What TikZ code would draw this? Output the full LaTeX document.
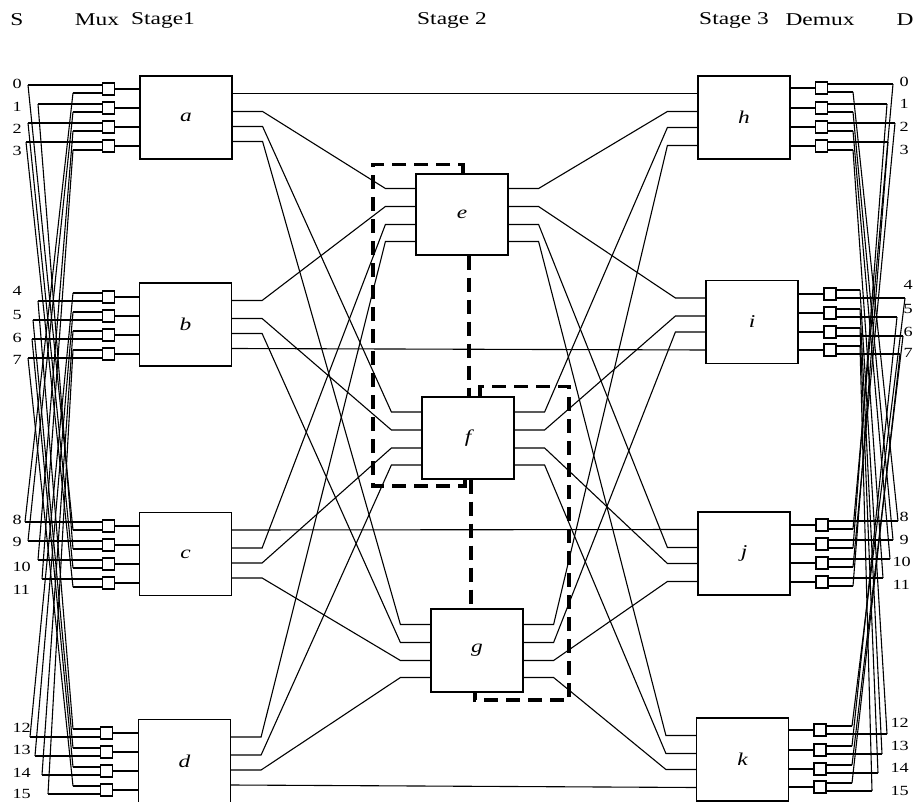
\documentclass[tikz,border=0pt]{standalone}
\usepackage{fontspec}
\setmainfont{Liberation Serif}
\usepackage{graphicx}
\usetikzlibrary{calc}
\newcommand{\hwide}[1]{\scalebox{1.3}[1]{#1}}

\tikzset{
  blk/.style={draw, line width=1.2pt, minimum width=92pt, minimum height=83pt,
              inner sep=0pt, font=\fontsize{18}{18}\selectfont\itshape},
  mux/.style={draw, line width=1.1pt, minimum width=12pt, minimum height=12pt, inner sep=0pt},
  lnk/.style={line width=1.1pt},
  num/.style={inner sep=0pt, anchor=west, font=\fontsize{14}{14}\selectfont},
  hdr/.style={inner sep=0pt, font=\fontsize{18}{18}\selectfont},
  hl/.style={line width=3.5pt, dash pattern=on 14pt off 8pt}
}

\begin{document}
\begin{tikzpicture}[x=1pt, y=-1pt, lnk]
  \useasboundingbox (0,0) rectangle (913,802);

  % headers
  \node[hdr] (hdS) at (17,20) {\hwide{S}};
  \node[hdr] (hdMux) at (97,20) {\hwide{Mux}};
  \node[hdr] (hdOne) at (163,20) {\hwide{Stage1}};
  \node[hdr] (hdTwo) at (452,20) {\hwide{Stage 2}};
  \node[hdr] (hdThree) at (734,20) {\hwide{Stage 3}};
  \node[hdr] (hdDemux) at (820,20) {\hwide{Demux}};
  \node[hdr] (hdD) at (905,20) {\hwide{D}};

  % stage 1, 2, 3 switches
  \node[blk] (a) at (186,117.5) {\hwide{a}};
  \node[blk] (b) at (185.5,324.5) {\hwide{b}};
  \node[blk] (c) at (185.5,554) {\hwide{c}};
  \node[blk] (d) at (184.5,761) {\hwide{d}};
  \node[blk, minimum height=81pt] (e) at (462,214.5) {\hwide{e}};
  \node[blk, minimum height=82pt] (f) at (468,438) {\hwide{f}};
  \node[blk] (g) at (477,650.5) {\hwide{g}};
  \node[blk] (h) at (744,117.5) {\hwide{h}};
  \node[blk] (i) at (752,322) {\hwide{i}};
  \node[blk] (j) at (744,553.5) {\hwide{j}};
  \node[blk] (k) at (742.5,759.5) {\hwide{k}};

  % muxes, sources
  \foreach \n/\bx/\mx/\my/\sx/\ly in {0/a/108.5/89/28/84, 1/a/108.5/108/38/107,
      2/a/108.5/127/28/129, 3/a/108.5/146/26/151, 4/b/108.5/297/38/291,
      5/b/108.5/316/33/315, 6/b/108.5/335/32/338, 7/b/108.5/354/28/360,
      8/c/108.5/526/25/520, 9/c/108.5/545/28/542, 10/c/108.5/564/38/567,
      11/c/108.5/583/42/590, 12/d/106.5/733/30/728, 13/d/106.5/752/35/750,
      14/d/106.5/771/42/773, 15/d/106.5/790/48/794}{
    \pgfmathtruncatemacro{\grp}{div(\n,4)}
    \pgfmathsetmacro{\sd}{mod(\grp,2)==0 ? -4 : 4}
    \node[mux] (mux\n) at (\mx,\my) {};
    \draw (mux\n.east) -- (mux\n.east -| \bx.west);
    \coordinate (src\n) at (\sx,\my+\sd);
    \coordinate (dgl\n) at (73,\my-\sd);
    \draw (src\n) -- (src\n -| mux\n.west);
    \draw (dgl\n) -- (dgl\n -| mux\n.west);
    \node[num] (sl\n) at (12,\ly) {\hwide{\n}};
  }
  \foreach \n in {0,...,15}{
    \pgfmathtruncatemacro{\m}{mod(\n+8,16)}
    \draw (dgl\n) -- (src\m);
  }

  % demuxes, destinations
  \foreach \n/\bx/\dx/\dy/\tx/\rx/\lx/\ly in {0/h/821.5/88/893/853/899/82,
      1/h/821.5/108/887/853/899/104, 2/h/821.5/127/895/853/899/127,
      3/h/821.5/146/888/853/899/150, 4/i/830/294/905/860/903/285,
      5/i/830/313/897/860/903/309, 6/i/830/332/903/860/903/332,
      7/i/830/350/900/860/903/353, 8/j/822/525/898/853/899/517,
      9/j/822/544/893/853/899/540, 10/j/822/563/890/853/892/562,
      11/j/822/582/883/853/892/585, 12/k/820/730/887/852/890/723,
      13/k/820/750/882/852/890/746, 14/k/820/769/878/852/890/768,
      15/k/820/787/872/852/890/791}{
    \pgfmathtruncatemacro{\grp}{div(\n,4)}
    \pgfmathsetmacro{\sd}{mod(\grp,2)==0 ? -4 : 4}
    \node[mux] (dmx\n) at (\dx,\dy) {};
    \draw (dmx\n.west) -- (dmx\n.west -| \bx.east);
    \coordinate (dst\n) at (\tx,\dy+\sd);
    \coordinate (dgr\n) at (\rx,\dy-\sd);
    \draw (dst\n) -- (dst\n -| dmx\n.east);
    \draw (dgr\n) -- (dgr\n -| dmx\n.east);
    \node[num] (tl\n) at (\lx,\ly) {\hwide{\n}};
  }
  \foreach \n in {0,...,15}{
    \pgfmathtruncatemacro{\m}{mod(\n+8,16)}
    \draw (dgr\n) -- (dst\m);
  }

  % stage 1 -> stage 2
  \foreach \u/\uo/\v/\vi in {a/-6/e/-26, a/9/f/-26, a/24/g/-26,
      b/-24/e/-8, b/-6/f/-8, b/9/g/-8, c/-6/e/10, c/9/f/10, c/24/g/10,
      d/-24/e/27, d/-6/f/27, d/9/g/27}
    \draw ($(\u.east)+(0,\uo)$) -- ++(30,0) -- ($(\v.west)+(-30,\vi)$) -- ++(30,0);

  % stage 2 -> stage 3
  \foreach \u/\uo/\v/\vi in {e/-26/h/-6, f/-26/h/10, g/-26/h/28,
      e/-8/i/-24, f/-8/i/-6, g/-8/i/10, e/10/j/-6, f/10/j/10, g/10/j/28,
      e/27/k/-24, f/27/k/-6, g/27/k/10}
    \draw ($(\u.east)+(0,\uo)$) -- ++(30,0) -- ($(\v.west)+(-30,\vi)$) -- ++(30,0);

  % direct stage 1 -> stage 3
  \draw ($(a.east)+(0,-24)$) -- ($(h.west)+(0,-24)$);
  \draw ($(b.east)+(0,24)$) -- ($(i.west)+(0,28)$);
  \draw ($(c.east)+(0,-24)$) -- ($(j.west)+(0,-24)$);
  \draw ($(d.east)+(0,24)$) -- ($(k.west)+(0,28)$);

  % highlighted route
  \draw[hl] ($(e.north)+(1,0)$) -- ++(0,-9) -| (373,486) -| ($(f.south)+(-3,0)$);
  \draw[hl] ($(e.south)+(7,0)$) -- ($(f.north)+(1,0)$);
  \draw[hl] ($(f.north)+(12,0)$) -- ++(0,-10) -| (569,700) -| ($(g.south)+(-2,0)$);
  \draw[hl] ($(f.south)+(3,0)$) -- ($(g.north)+(-6,0)$);
\end{tikzpicture}
\end{document}
